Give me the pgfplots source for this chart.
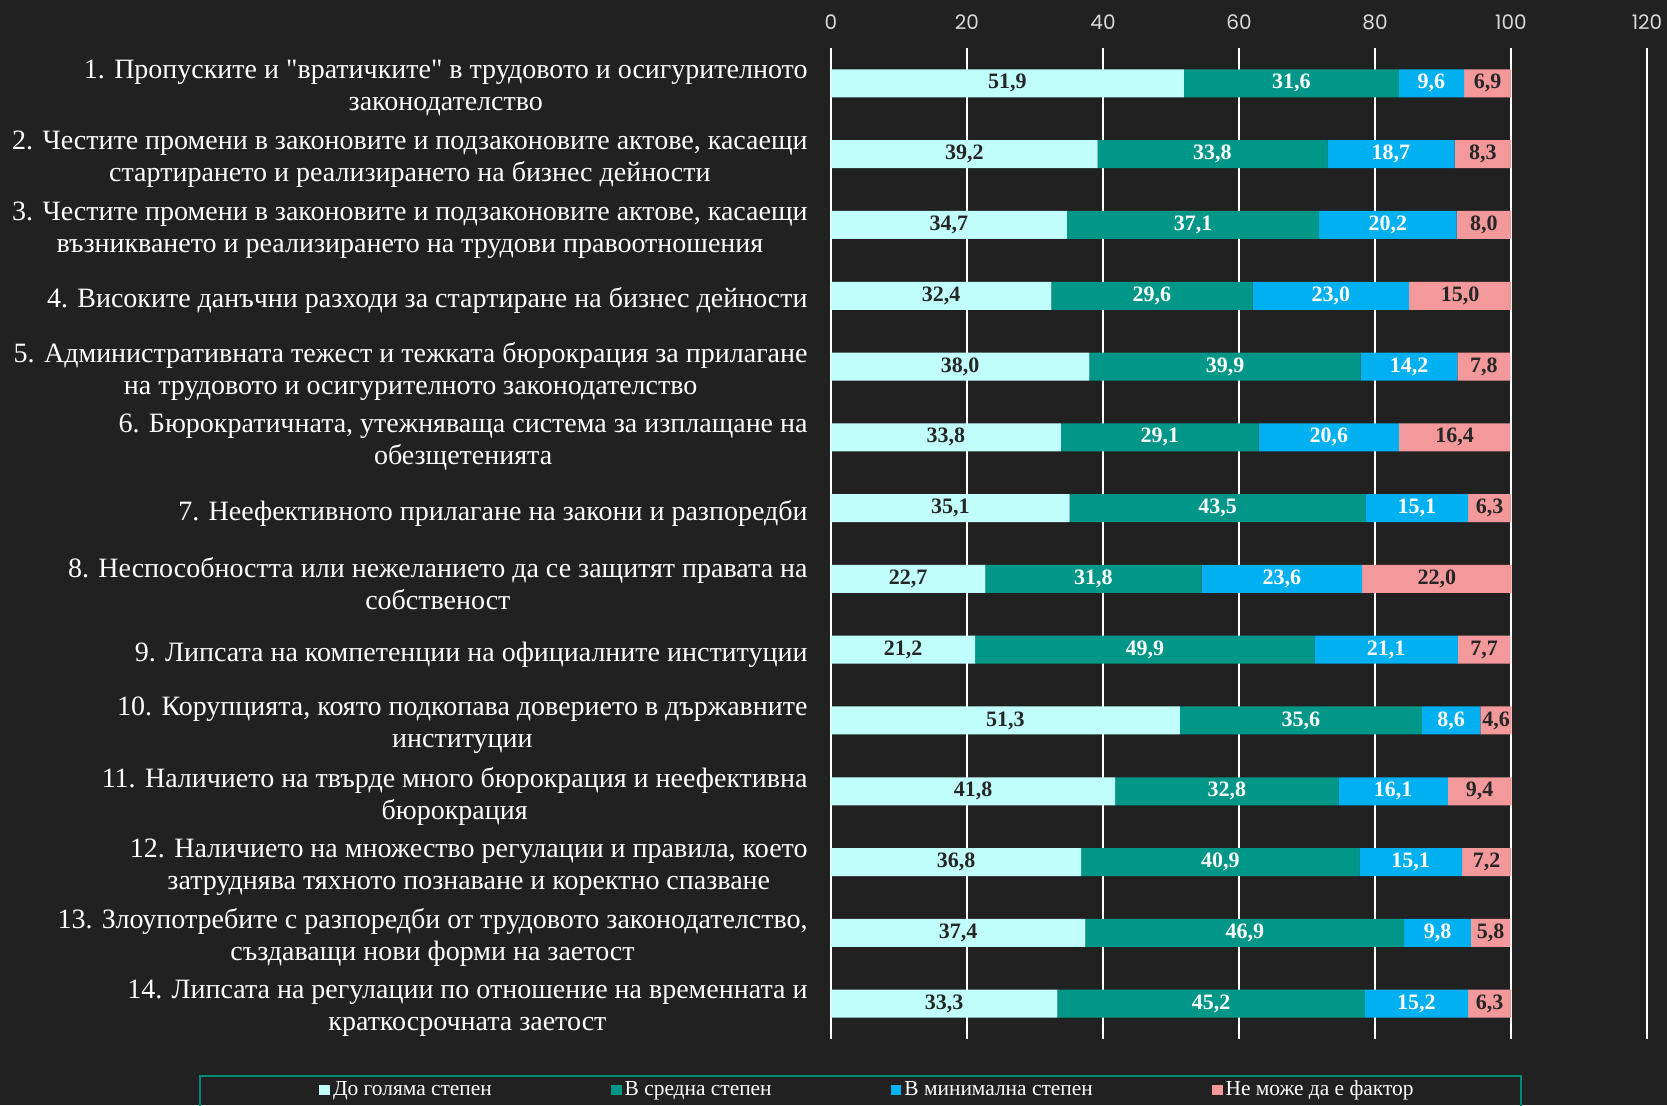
\documentclass[border=0pt]{standalone}
\usepackage{pgfplots}
\usepackage{pgfplotstable}
\pgfplotsset{compat=1.18}
\usepackage{fontspec}
\setmainfont{Liberation Serif}[Ligatures=TeXOff]
\newfontfamily\tickfont{Poppins}
\definecolor{bgc}{HTML}{212121}
\definecolor{cyanc}{HTML}{C0FFFC}
\definecolor{tealc}{HTML}{009688}
\definecolor{bluec}{HTML}{00B0F0}
\definecolor{pinkc}{HTML}{F3989B}
\definecolor{darktxt}{HTML}{262626}
\definecolor{legframe}{HTML}{00897B}

\pgfplotstableread{
row a b c d
1 51.9 31.6 9.6 6.9
2 39.2 33.8 18.7 8.3
3 34.7 37.1 20.2 8.0
4 32.4 29.6 23.0 15.0
5 38.0 39.9 14.2 7.8
6 33.8 29.1 20.6 16.4
7 35.1 43.5 15.1 6.3
8 22.7 31.8 23.6 22.0
9 21.2 49.9 21.1 7.7
10 51.3 35.6 8.6 4.6
11 41.8 32.8 16.1 9.4
12 36.8 40.9 15.1 7.2
13 37.4 46.9 9.8 5.8
14 33.3 45.2 15.2 6.3
}\data
\pgfplotstablecreatecol[create col/expr={\thisrow{a}/2}]{ma}{\data}
\pgfplotstablecreatecol[create col/expr={\thisrow{a}+\thisrow{b}/2}]{mb}{\data}
\pgfplotstablecreatecol[create col/expr={\thisrow{a}+\thisrow{b}+\thisrow{c}/2}]{mc}{\data}
\pgfplotstablecreatecol[create col/expr={\thisrow{a}+\thisrow{b}+\thisrow{c}+\thisrow{d}/2}]{md}{\data}

\pgfplotsset{
  geom/.style={
    at={(415.5pt,-24pt)}, anchor=north west,
    width=408pt, height=495.5pt, scale only axis,
    xmin=0, xmax=120, ymin=0.5, ymax=14.5, y dir=reverse,
  },
  vlab/.style={
    draw=none, mark=none, forget plot,
    nodes near coords, point meta=explicit,
    every node near coord/.append style={anchor=center, font=\fontsize{11}{12}\selectfont\bfseries, text=#1},
    /pgf/number format/fixed, /pgf/number format/fixed zerofill,
    /pgf/number format/precision=1, /pgf/number format/use comma,
    /pgf/number format/assume math mode=true,
  },
  sq/.style={legend image code/.code={\fill[#1] (0pt,-2.7pt) rectangle (5.4pt,2.7pt);}},
}

\begin{document}
\begin{tikzpicture}
\fill[bgc] (0,0) rectangle (833.5pt,-552.5pt);
\begin{axis}[
  geom,
  xbar stacked, bar width=14pt,
  axis line style={draw=none},
  xtick={0,20,...,120},
  xticklabel pos=upper,
  xmajorgrids,
  major grid style={white, line width=1pt},
  major tick length=0pt,
  /pgf/number format/assume math mode=true,
  xticklabel style={font=\tickfont\fontsize{10}{11}\selectfont, text=white!85!black, yshift=5.7pt},
  ytick={1,...,14},
  yticklabel style={align=center, font=\fontsize{14}{16}\selectfont, text=white, inner sep=0pt, xshift=-11.5pt, yshift=-2.5pt},
  yticklabels={
    {1. Пропуските и "вратичките" в трудовото и осигурителното\\законодателство},
    {2. Честите промени в законовите и подзаконовите актове, касаещи\\стартирането и реализирането на бизнес дейности},
    {3. Честите промени в законовите и подзаконовите актове, касаещи\\възникването и реализирането на трудови правоотношения},
    {4. Високите данъчни разходи за стартиране на бизнес дейности},
    {5. Административната тежест и тежката бюрокрация за прилагане\\на трудовото и осигурителното законодателство},
    {6. Бюрократичната, утежняваща система за изплащане на\\обезщетенията},
    {7. Неефективното прилагане на закони и разпоредби},
    {8. Неспособността или нежеланието да се защитят правата на\\собственост},
    {9. Липсата на компетенции на официалните институции},
    {10. Корупцията, която подкопава доверието в държавните\\институции},
    {11. Наличието на твърде много бюрокрация и неефективна\\бюрокрация},
    {12. Наличието на множество регулации и правила, което\\затруднява тяхното познаване и коректно спазване},
    {13. Злоупотребите с разпоредби от трудовото законодателство,\\създаващи нови форми на заетост},
    {14. Липсата на регулации по отношение на временната и\\краткосрочната заетост},
  },
  legend columns=4,
  legend style={at={(0.0452,-0.0515)}, anchor=center, draw=none, fill=none,
    font=\fontsize{10.7}{12}\selectfont, text=white,
    /tikz/every even column/.append style={column sep=58pt},
    nodes={inner xsep=1.5pt, inner ysep=0pt}},
]
\addplot[fill=cyanc, draw=none, sq=cyanc] table[x=a, y=row] {\data};
\addlegendentry{До голяма степен}
\addplot[fill=tealc, draw=none, sq=tealc] table[x=b, y=row] {\data};
\addlegendentry{В средна степен}
\addplot[fill=bluec, draw=none, sq=bluec] table[x=c, y=row] {\data};
\addlegendentry{В минимална степен}
\addplot[fill=pinkc, draw=none, sq=pinkc] table[x=d, y=row] {\data};
\addlegendentry{Не може да е фактор}
\end{axis}
\begin{axis}[geom, hide axis]
\addplot[vlab=darktxt] table[x=ma, y=row, meta=a] {\data};
\addplot[vlab=white] table[x=mb, y=row, meta=b] {\data};
\addplot[vlab=white] table[x=mc, y=row, meta=c] {\data};
\addplot[vlab=darktxt] table[x=md, y=row, meta=d] {\data};
\end{axis}
\draw[legframe, line width=1pt] (100pt,-538pt) rectangle (760.5pt,-562pt);
\pgfresetboundingbox
\useasboundingbox (0,0) rectangle (833.5pt,-552.5pt);
\end{tikzpicture}
\end{document}
